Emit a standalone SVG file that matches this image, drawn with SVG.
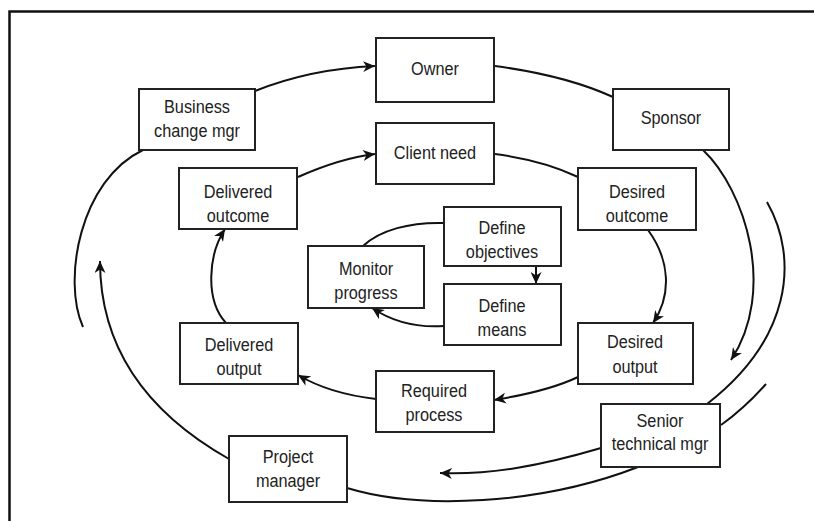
<svg xmlns="http://www.w3.org/2000/svg" width="814" height="521" viewBox="0 0 814 521">
  <style>
    .box { fill: #ffffff; stroke: #222222; stroke-width: 2; }
    .lbl { font-family: "Liberation Sans", Arial, sans-serif; font-size: 18.5px; fill: #222222; text-anchor: middle; }
    .con { fill: none; stroke: #111111; stroke-width: 2; }
    .arr { marker-end: url(#head); }
  </style>
  <defs>
    <marker id="head" markerUnits="userSpaceOnUse" markerWidth="13" markerHeight="11" refX="12" refY="5.5" orient="auto">
      <path d="M0,0 L12,5.5 L0,11 L3.5,5.5 Z" fill="#111111"/>
    </marker>
  </defs>

  <rect width="814" height="521" fill="#ffffff"/>
  <!-- frame (top and left edges) -->
  <path d="M9.5,521 L9.5,11.5 L814,11.5" fill="none" stroke="#111111" stroke-width="2.5"/>

  <g id="connectors">
    <!-- outer ring -->
    <path class="con arr" d="M255,91 C290,77 330,68 375,66"/>
    <path class="con" d="M495,66 C540,72 580,82 613,97"/>
    <path class="con arr" d="M703,150 C745,190 777,290 731,360"/>
    <path class="con" d="M767,202 C800,260 790,340 707,404"/>
    <path class="con" d="M766,384 C750,402 735,415 721,425"/>
    <path class="con arr" d="M601,448 C540,466 490,475 440,473"/>
    <path class="con" d="M638,467 C540,505 420,510 347,488"/>
    <path class="con arr" d="M229,459 C160,420 100,360 100,261"/>
    <path class="con" d="M143,150 C80,180 62,280 83,327"/>
    <!-- inner ring -->
    <path class="con arr" d="M298,177 C325,165 350,157 375,154"/>
    <path class="con" d="M495,154 C525,158 555,166 578,177"/>
    <path class="con arr" d="M648,230 C670,260 672,295 653,323"/>
    <path class="con arr" d="M578,377 C555,388 525,395 494,400"/>
    <path class="con arr" d="M376,399 C350,396 320,388 298,375"/>
    <path class="con arr" d="M226,323 C205,300 208,255 225,229"/>
    <!-- centre loop -->
    <path class="con" d="M444,223 C410,222 380,230 363,246"/>
    <path class="con arr" d="M536,266 L536,284"/>
    <path class="con arr" d="M444,326 C415,328 390,320 372,308"/>
  </g>

  <g id="owner">
    <rect class="box" x="376" y="38" width="118" height="64"/>
    <text class="lbl" transform="translate(435,75) scale(0.88,1)">Owner</text>
  </g>
  <g id="sponsor">
    <rect class="box" x="613" y="89" width="116" height="61"/>
    <text class="lbl" transform="translate(671,124) scale(0.88,1)">Sponsor</text>
  </g>
  <g id="business-change-mgr">
    <rect class="box" x="139" y="89" width="116" height="61"/>
    <text class="lbl" transform="translate(197,113) scale(0.88,1)">Business</text>
    <text class="lbl" transform="translate(197,137) scale(0.88,1)">change mgr</text>
  </g>
  <g id="client-need">
    <rect class="box" x="376" y="123" width="118" height="61"/>
    <text class="lbl" transform="translate(435,159) scale(0.88,1)">Client need</text>
  </g>
  <g id="delivered-outcome">
    <rect class="box" x="179" y="168" width="118" height="61"/>
    <text class="lbl" transform="translate(238,198) scale(0.88,1)">Delivered</text>
    <text class="lbl" transform="translate(238,222) scale(0.88,1)">outcome</text>
  </g>
  <g id="desired-outcome">
    <rect class="box" x="578" y="168" width="118" height="62"/>
    <text class="lbl" transform="translate(637,198) scale(0.88,1)">Desired</text>
    <text class="lbl" transform="translate(637,222) scale(0.88,1)">outcome</text>
  </g>
  <g id="define-objectives">
    <rect class="box" x="444" y="207" width="117" height="59"/>
    <text class="lbl" transform="translate(502,234) scale(0.88,1)">Define</text>
    <text class="lbl" transform="translate(502,258) scale(0.88,1)">objectives</text>
  </g>
  <g id="monitor-progress">
    <rect class="box" x="308" y="246" width="116" height="62"/>
    <text class="lbl" transform="translate(366,275) scale(0.88,1)">Monitor</text>
    <text class="lbl" transform="translate(366,299) scale(0.88,1)">progress</text>
  </g>
  <g id="define-means">
    <rect class="box" x="444" y="284" width="117" height="61"/>
    <text class="lbl" transform="translate(502,312) scale(0.88,1)">Define</text>
    <text class="lbl" transform="translate(502,336) scale(0.88,1)">means</text>
  </g>
  <g id="delivered-output">
    <rect class="box" x="180" y="323" width="118" height="61"/>
    <text class="lbl" transform="translate(239,351) scale(0.88,1)">Delivered</text>
    <text class="lbl" transform="translate(239,375) scale(0.88,1)">output</text>
  </g>
  <g id="desired-output">
    <rect class="box" x="578" y="323" width="115" height="61"/>
    <text class="lbl" transform="translate(635,348) scale(0.88,1)">Desired</text>
    <text class="lbl" transform="translate(635,373) scale(0.88,1)">output</text>
  </g>
  <g id="required-process">
    <rect class="box" x="376" y="371" width="118" height="61"/>
    <text class="lbl" transform="translate(434,397) scale(0.88,1)">Required</text>
    <text class="lbl" transform="translate(434,421) scale(0.88,1)">process</text>
  </g>
  <g id="senior-technical-mgr">
    <rect class="box" x="601" y="404" width="119" height="63"/>
    <text class="lbl" transform="translate(660,427) scale(0.88,1)">Senior</text>
    <text class="lbl" transform="translate(660,450) scale(0.88,1)">technical mgr</text>
  </g>
  <g id="project-manager">
    <rect class="box" x="229" y="436" width="118" height="66"/>
    <text class="lbl" transform="translate(288,463) scale(0.88,1)">Project</text>
    <text class="lbl" transform="translate(288,487) scale(0.88,1)">manager</text>
  </g>
</svg>
